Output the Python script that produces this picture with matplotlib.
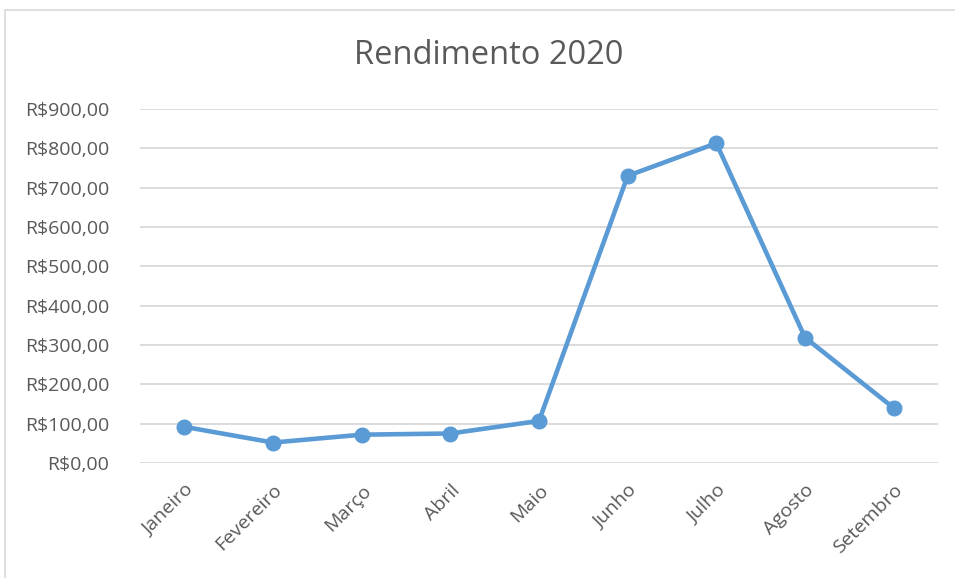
import matplotlib.pyplot as plt
import matplotlib.patches as patches
from matplotlib.ticker import FuncFormatter

months = ["Janeiro", "Fevereiro", "Março", "Abril", "Maio",
          "Junho", "Julho", "Agosto", "Setembro"]
rendimento = [92, 52, 72, 75, 107, 730, 813, 319, 140]
yticks = [0, 100, 200, 300, 400, 500, 600, 700, 800, 900]

text_color = "#595959"
line_color = "#5B9BD5"

plt.rcParams["font.family"] = ["Open Sans", "DejaVu Sans"]

fig = plt.figure(figsize=(9.55, 5.78), dpi=100)
ax = fig.add_axes([140 / 955, 1 - 463 / 578, (938 - 140) / 955, (463 - 109) / 578])

# chart area border (Excel-style frame, cut off at right/bottom)
frame = patches.Rectangle((4.5 / 955, -0.1), 1.2, 1 - 10.5 / 578 + 0.1,
                          transform=fig.transFigure, fill=False,
                          edgecolor="#D9D9D9", linewidth=1.2, clip_on=False)
fig.patches.append(frame)

x = list(range(len(months)))
ax.plot(x, rendimento, color=line_color, linewidth=3.3, marker="o",
        markersize=10.5, zorder=3, solid_joinstyle="round")

ax.set_xlim(-0.5, len(months) - 0.5)
ax.set_ylim(0, 900)
ax.set_yticks(yticks)
ax.yaxis.set_major_formatter(FuncFormatter(lambda v, p: "R$%d,00" % v))
ax.grid(axis="y", color="#D9D9D9", linewidth=1.3)
ax.set_axisbelow(True)

ax.set_xticks(x)
ax.set_xticklabels(months, rotation=45, ha="right", rotation_mode="anchor")

for s in ax.spines.values():
    s.set_visible(False)
ax.tick_params(axis="both", length=0, labelsize=14, colors=text_color)
ax.tick_params(axis="y", pad=22)
ax.tick_params(axis="x", pad=13)

fig.text(489 / 955, 1 - 55 / 578, "Rendimento 2020", ha="center", va="center",
         fontsize=23.5, color=text_color)

fig.savefig("out.png", dpi=100, facecolor="white")
